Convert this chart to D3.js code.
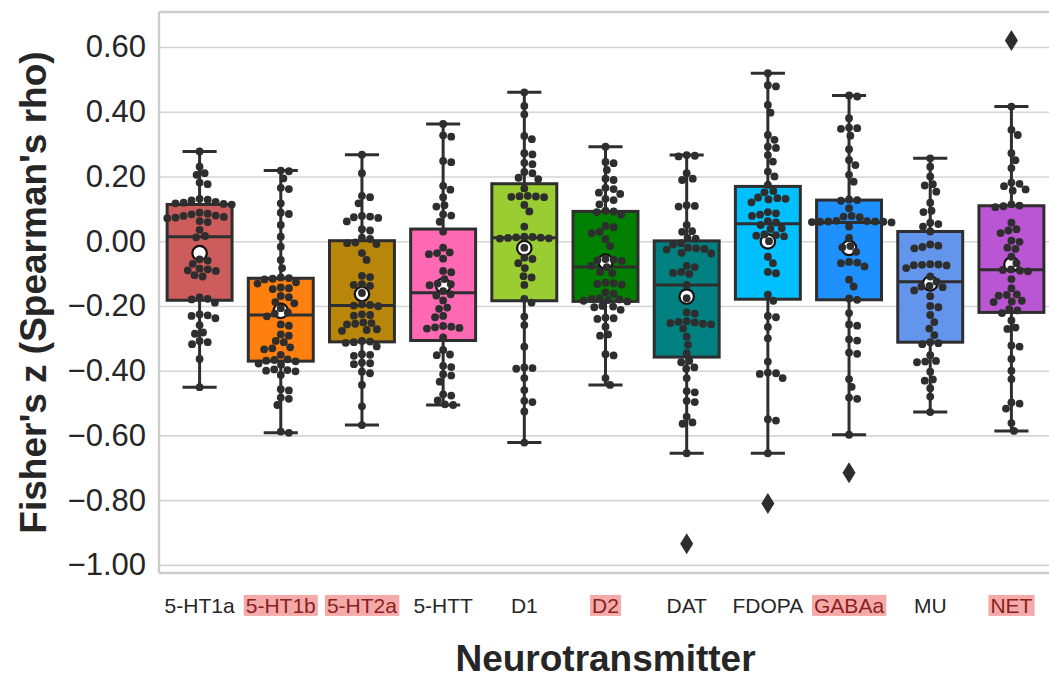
<!DOCTYPE html>
<html>
<head>
<meta charset="utf-8">
<script src="https://cdn.jsdelivr.net/npm/d3@7"></script>
<style>
  body { margin: 0; background: #ffffff; }
  svg { display: block; font-family: "Liberation Sans", Arial, sans-serif; }
</style>
</head>
<body>
<svg id="chart" width="1049" height="681"></svg>
<script>
// Neurotransmitter map categories, in plotting order
const categories = ["5-HT1a", "5-HT1b", "5-HT2a", "5-HTT", "D1", "D2", "DAT", "FDOPA", "GABAa", "MU", "NET"];
// Categories whose tick label is flagged with a red highlight
const highlighted = ["5-HT1b", "5-HT2a", "D2", "GABAa", "NET"];
// Box fill colour for each category
const boxColors = ["#cd5c5c", "#ff800e", "#b8860b", "#ff69b4", "#9acd32", "#008000",
                   "#008080", "#00bfff", "#1e90ff", "#6495ed", "#ba55d3"];

// Fisher's z values per subject, one array per map
const ht1a = [0.277, 0.230, 0.210, 0.205, 0.181, 0.176, 0.131, 0.128, 0.126, 0.119, 0.117, 0.115, 0.121, 0.113,
  0.088, 0.085, 0.083, 0.078, 0.075, 0.073, 0.079, 0.071, 0.062, 0.059, 0.035, 0.016, 0.012, -0.056, -0.060,
  -0.070, -0.087, -0.090, -0.092, -0.085, -0.105, -0.109, -0.174, -0.178, -0.180, -0.190, -0.226, -0.229,
  -0.231, -0.238, -0.259, -0.282, -0.286, -0.308, -0.312, -0.318, -0.364, -0.451];
const ht1b = [0.218, 0.216, 0.194, 0.165, 0.161, 0.117, 0.088, 0.084, 0.050, 0.014, -0.017, -0.058, -0.083,
  -0.112, -0.114, -0.116, -0.118, -0.127, -0.131, -0.143, -0.145, -0.148, -0.169, -0.173, -0.188, -0.192,
  -0.207, -0.220, -0.224, -0.232, -0.257, -0.261, -0.288, -0.292, -0.308, -0.312, -0.328, -0.331, -0.334,
  -0.351, -0.365, -0.367, -0.369, -0.371, -0.378, -0.382, -0.396, -0.398, -0.400, -0.402, -0.413, -0.457,
  -0.461, -0.483, -0.487, -0.506, -0.588, -0.592];
const ht2a = [0.267, 0.210, 0.140, 0.136, 0.117, 0.078, 0.076, 0.074, 0.072, 0.061, 0.037, 0.033, 0.011, 0.007,
  -0.004, -0.006, -0.009, -0.037, -0.058, -0.107, -0.111, -0.133, -0.135, -0.138, -0.160, -0.195, -0.197,
  -0.199, -0.201, -0.226, -0.228, -0.230, -0.251, -0.253, -0.255, -0.257, -0.272, -0.274, -0.277, -0.308,
  -0.310, -0.312, -0.314, -0.325, -0.349, -0.351, -0.354, -0.375, -0.377, -0.380, -0.403, -0.408, -0.444,
  -0.510, -0.568];
const htt = [0.362, 0.327, 0.323, 0.248, 0.244, 0.171, 0.159, 0.136, 0.111, 0.107, 0.083, 0.079, 0.060, 0.030,
  -0.020, -0.035, -0.037, -0.040, -0.054, -0.092, -0.096, -0.117, -0.131, -0.133, -0.136, -0.154, -0.164,
  -0.168, -0.183, -0.205, -0.209, -0.231, -0.235, -0.262, -0.264, -0.266, -0.268, -0.270, -0.297, -0.336,
  -0.350, -0.352, -0.385, -0.389, -0.411, -0.415, -0.434, -0.473, -0.477, -0.492, -0.504, -0.506];
const d1 = [0.460, 0.418, 0.392, 0.325, 0.315, 0.272, 0.268, 0.242, 0.238, 0.214, 0.210, 0.196, 0.192, 0.163,
  0.140, 0.139, 0.138, 0.137, 0.136, 0.112, 0.092, 0.045, 0.014, 0.013, 0.012, 0.011, 0.010, 0.009, 0.008,
  -0.020, -0.051, -0.055, -0.068, -0.083, -0.108, -0.112, -0.135, -0.178, -0.190, -0.233, -0.259, -0.326,
  -0.390, -0.392, -0.394, -0.423, -0.460, -0.493, -0.497, -0.526, -0.622];
const d2 = [0.292, 0.245, 0.241, 0.220, 0.193, 0.189, 0.165, 0.161, 0.150, 0.146, 0.131, 0.127, 0.114, 0.094,
  0.092, 0.090, 0.082, 0.047, 0.043, 0.029, 0.025, 0.006, -0.015, -0.055, -0.057, -0.059, -0.061, -0.076,
  -0.080, -0.095, -0.099, -0.128, -0.130, -0.132, -0.134, -0.158, -0.162, -0.176, -0.178, -0.180, -0.182,
  -0.184, -0.186, -0.200, -0.202, -0.204, -0.212, -0.236, -0.238, -0.240, -0.264, -0.288, -0.292, -0.349,
  -0.353, -0.423, -0.444];
const dat = [0.266, 0.264, 0.262, 0.210, 0.193, 0.189, 0.111, 0.109, 0.107, 0.050, 0.031, 0.029, 0.010, 0.008,
  -0.006, -0.010, -0.020, -0.022, -0.024, -0.026, -0.036, -0.038, -0.076, -0.080, -0.095, -0.098, -0.101,
  -0.135, -0.176, -0.220, -0.224, -0.247, -0.249, -0.251, -0.253, -0.255, -0.257, -0.270, -0.295, -0.320,
  -0.346, -0.370, -0.374, -0.390, -0.394, -0.423, -0.463, -0.467, -0.493, -0.497, -0.542, -0.560, -0.564,
  -0.655, -0.935];
const fdopa = [0.519, 0.482, 0.478, 0.421, 0.397, 0.328, 0.313, 0.292, 0.288, 0.266, 0.246, 0.215, 0.200, 0.174,
  0.155, 0.151, 0.135, 0.133, 0.131, 0.129, 0.120, 0.090, 0.086, 0.082, 0.078, 0.062, 0.058, 0.050, 0.040,
  0.038, 0.021, 0.019, 0.017, 0.015, 0.000, -0.048, -0.068, -0.095, -0.099, -0.165, -0.184, -0.231,
  -0.235, -0.265, -0.300, -0.372, -0.406, -0.408, -0.410, -0.423, -0.550, -0.554, -0.655, -0.810];
const gabaa = [0.450, 0.447, 0.380, 0.351, 0.349, 0.347, 0.326, 0.284, 0.251, 0.235, 0.205, 0.184, 0.129, 0.127,
  0.125, 0.102, 0.078, 0.076, 0.074, 0.063, 0.062, 0.061, 0.061, 0.060, 0.060, 0.059, 0.058, 0.045, 0.010,
  -0.015, -0.019, -0.033, -0.064, -0.066, -0.068, -0.078, -0.119, -0.140, -0.177, -0.181, -0.222, -0.257,
  -0.261, -0.303, -0.307, -0.344, -0.348, -0.426, -0.450, -0.483, -0.487, -0.598, -0.715];
const mu = [0.256, 0.230, 0.200, 0.176, 0.172, 0.153, 0.119, 0.094, 0.090, 0.057, 0.053, 0.045, 0.030, -0.010,
  -0.014, -0.018, -0.022, -0.071, -0.072, -0.073, -0.074, -0.075, -0.083, -0.109, -0.125, -0.138, -0.140,
  -0.142, -0.152, -0.170, -0.200, -0.204, -0.228, -0.250, -0.270, -0.290, -0.312, -0.315, -0.318, -0.352,
  -0.370, -0.372, -0.374, -0.403, -0.427, -0.431, -0.454, -0.480, -0.528];
const net = [0.620, 0.416, 0.344, 0.328, 0.272, 0.250, 0.226, 0.181, 0.177, 0.170, 0.160, 0.156, 0.114, 0.110,
  0.108, 0.105, 0.057, 0.037, 0.033, 0.025, 0.002, -0.002, -0.020, -0.024, -0.048, -0.068, -0.087, -0.089,
  -0.091, -0.093, -0.117, -0.145, -0.164, -0.166, -0.168, -0.184, -0.186, -0.188, -0.210, -0.214, -0.222,
  -0.245, -0.267, -0.271, -0.322, -0.326, -0.364, -0.400, -0.426, -0.498, -0.502, -0.517, -0.562, -0.586];

const seriesValues = [ht1a, ht1b, ht2a, htt, d1, d2, dat, fdopa, gabaa, mu, net];

// Y axis ticks and their labels
const yTickValues = [-1.0, -0.8, -0.6, -0.4, -0.2, 0.0, 0.2, 0.4, 0.6];
const yTickLabels = ["\u22121.00", "\u22120.80", "\u22120.60", "\u22120.40", "\u22120.20", "0.00", "0.20", "0.40", "0.60"];

const xTitle = "Neurotransmitter";
const yTitle = "Fisher's z (Spearman's rho)";

// ---- layout ----
const svg = d3.select("#chart");
const plot = { left: 159, right: 1052, top: 12, bottom: 573 };
const ink = "#2e2e2e";
const font = "'Liberation Sans', Arial, sans-serif";

const x = d3.scaleBand().domain(categories).range([plot.left, plot.right]).padding(0);
const y = d3.scaleLinear().domain([-1.025, 0.708]).range([plot.bottom, plot.top]);

// horizontal gridlines
svg.append("g")
  .attr("transform", `translate(${plot.left},0)`)
  .call(d3.axisLeft(y).tickValues(yTickValues).tickSize(-(plot.right - plot.left)).tickFormat(""))
  .call(g => g.select(".domain").remove())
  .call(g => g.selectAll("line").attr("stroke", "#d5d5d5").attr("stroke-width", 1.6));

// spines
const spines = svg.append("g").attr("stroke", "#cccccc").attr("stroke-width", 2.4).attr("fill", "none");
spines.append("line").attr("x1", plot.left).attr("x2", plot.left).attr("y1", plot.top).attr("y2", plot.bottom);
spines.append("line").attr("x1", plot.left).attr("x2", plot.right).attr("y1", plot.top).attr("y2", plot.top);
spines.append("line").attr("x1", plot.left).attr("x2", plot.right).attr("y1", plot.bottom).attr("y2", plot.bottom);

// y axis tick labels
svg.append("g")
  .attr("transform", `translate(${plot.left},0)`)
  .call(d3.axisLeft(y).tickValues(yTickValues).tickSize(0).tickPadding(13)
          .tickFormat((d, i) => yTickLabels[i]))
  .call(g => g.select(".domain").remove())
  .call(g => g.selectAll("text")
    .attr("font-family", font)
    .attr("font-size", 31).attr("fill", "#262626"));

// box statistics computed from each series
function boxStats(values) {
  const s = values.slice().sort(d3.ascending);
  const q1 = d3.quantile(s, 0.25), med = d3.quantile(s, 0.5), q3 = d3.quantile(s, 0.75);
  const iqr = q3 - q1;
  const lo = d3.min(s.filter(v => v >= q1 - 1.5 * iqr));
  const hi = d3.max(s.filter(v => v <= q3 + 1.5 * iqr));
  return { q1, med, q3, lo, hi, mean: d3.mean(s), outliers: s.filter(v => v < lo || v > hi) };
}

// beeswarm: place each point as close to the centre as possible without overlap
function swarm(values, diameter) {
  const pts = values.map(v => ({ v, py: y(v), dx: 0 }));
  const order = pts.slice().sort((a, b) => a.py - b.py);
  const placed = [];
  for (const p of order) {
    const near = placed.filter(q => Math.abs(q.py - p.py) < diameter);
    const cands = [0];
    for (const q of near) {
      const off = Math.sqrt(diameter * diameter - (q.py - p.py) ** 2);
      cands.push(q.dx + off, q.dx - off);
    }
    cands.sort((a, b) => Math.abs(a) - Math.abs(b));
    for (const c of cands) {
      if (near.every(q => (q.dx - c) ** 2 + (q.py - p.py) ** 2 >= diameter * diameter - 1e-6)) {
        p.dx = c; break;
      }
    }
    placed.push(p);
  }
  return pts;
}

const boxW = x.bandwidth() * 0.8;
const capW = x.bandwidth() * 0.42;

categories.forEach((cat, i) => {
  const vals = seriesValues[i];
  const st = boxStats(vals);
  const cx = x(cat) + x.bandwidth() / 2;
  const g = svg.append("g");

  // whiskers and caps
  g.append("line").attr("x1", cx).attr("x2", cx).attr("y1", y(st.q3)).attr("y2", y(st.hi))
    .attr("stroke", ink).attr("stroke-width", 3);
  g.append("line").attr("x1", cx).attr("x2", cx).attr("y1", y(st.q1)).attr("y2", y(st.lo))
    .attr("stroke", ink).attr("stroke-width", 3);
  [st.hi, st.lo].forEach(v => g.append("line")
    .attr("x1", cx - capW / 2).attr("x2", cx + capW / 2).attr("y1", y(v)).attr("y2", y(v))
    .attr("stroke", ink).attr("stroke-width", 3));

  // box
  g.append("rect").attr("x", cx - boxW / 2).attr("width", boxW)
    .attr("y", y(st.q3)).attr("height", y(st.q1) - y(st.q3))
    .attr("fill", boxColors[i]).attr("stroke", ink).attr("stroke-width", 3);
  // median
  g.append("line").attr("x1", cx - boxW / 2).attr("x2", cx + boxW / 2)
    .attr("y1", y(st.med)).attr("y2", y(st.med)).attr("stroke", ink).attr("stroke-width", 3);

  // outliers (thin diamonds)
  st.outliers.forEach(v => g.append("path")
    .attr("d", `M${cx},${y(v) - 10.5}L${cx + 6.5},${y(v)}L${cx},${y(v) + 10.5}L${cx - 6.5},${y(v)}Z`)
    .attr("fill", ink));

  // mean marker
  g.append("circle").attr("cx", cx).attr("cy", y(st.mean)).attr("r", 7.2)
    .attr("fill", "#ffffff").attr("stroke", "#111111").attr("stroke-width", 2.2);

  // individual subjects
  g.selectAll("circle.pt").data(swarm(vals, 8.2)).join("circle")
    .attr("class", "pt")
    .attr("cx", d => cx + d.dx).attr("cy", d => d.py).attr("r", 3.9)
    .attr("fill", ink);
});

// x axis tick labels, with highlight boxes
const xAxisG = svg.append("g")
  .attr("transform", `translate(0,${plot.bottom})`)
  .call(d3.axisBottom(x).tickSize(0).tickPadding(25))
  .call(g => g.select(".domain").remove());
xAxisG.selectAll(".tick text")
  .attr("font-family", font)
  .attr("font-size", 21)
  .attr("fill", d => highlighted.includes(d) ? "#8b1f1f" : "#262626");
xAxisG.selectAll(".tick").each(function (d) {
  if (!highlighted.includes(d)) return;
  const t = d3.select(this).select("text");
  const bb = t.node().getBBox();
  d3.select(this).insert("rect", "text")
    .attr("x", bb.x - 2).attr("width", bb.width + 4)
    .attr("y", bb.y + 1).attr("height", bb.height - 2)
    .attr("fill", "#f5aaaa");
});

// axis titles
svg.append("text")
  .attr("x", (plot.left + plot.right) / 2).attr("y", 671)
  .attr("text-anchor", "middle")
  .attr("font-family", font)
  .attr("font-size", 37).attr("font-weight", "bold").attr("fill", "#262626")
  .text(xTitle);
svg.append("text")
  .attr("transform", `translate(46,${(plot.top + plot.bottom) / 2}) rotate(-90)`)
  .attr("text-anchor", "middle")
  .attr("font-family", font)
  .attr("font-size", 37).attr("font-weight", "bold").attr("fill", "#262626")
  .text(yTitle);
</script>
</body>
</html>
